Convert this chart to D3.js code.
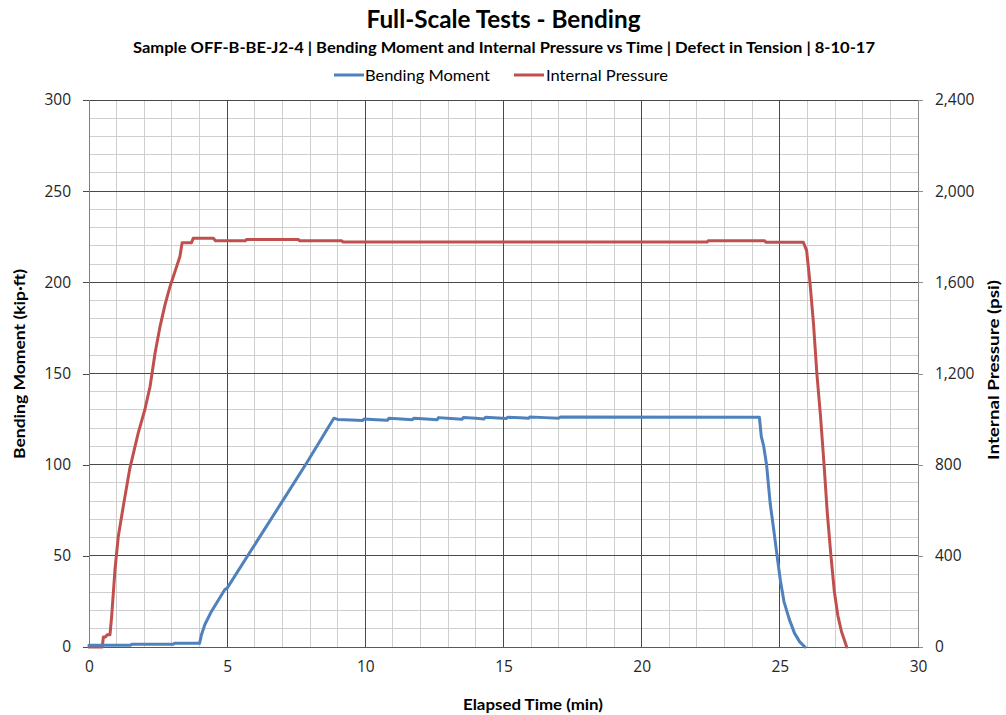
<!DOCTYPE html>
<html>
<head>
<meta charset="utf-8">
<script src="https://cdn.jsdelivr.net/npm/d3@7"></script>
<style>
  body { margin: 0; background: #fff; }
  svg { display: block; }
</style>
</head>
<body>
<svg id="chart" width="1006" height="715"></svg>
<script>
// ---- Data ----------------------------------------------------------------
// Bending moment (kip·ft) vs elapsed time (min)
const momentTime = [0, 1.5, 1.55, 3.05, 3.1, 4.0, 4.07, 4.19, 4.43, 4.91, 5.0, 5.88, 7.03, 7.87, 8.86,
  9.0, 9.5, 9.9, 9.95, 10.4, 10.8, 10.85, 11.3, 11.7, 11.75, 12.2, 12.6, 12.65, 13.1, 13.5, 13.55,
  14.0, 14.3, 14.35, 14.8, 15.1, 15.15, 15.6, 15.9, 15.95, 16.5, 17.0, 17.05, 24.26,
  24.33, 24.41, 24.52, 24.65, 24.77, 24.9, 25.02, 25.15, 25.34, 25.53, 25.72, 25.91];
const bendingMoment = [1.0, 1.0, 1.5, 1.5, 2.0, 2.0, 6.7, 12.2, 19.5, 31.4, 32.3, 53.3, 80.7, 100.8, 125.5,
  124.8, 124.5, 124.2, 125.0, 124.6, 124.3, 125.4, 125.0, 124.6, 125.4, 125.0, 124.6, 125.8, 125.3, 124.9, 125.9,
  125.4, 125.1, 126.0, 125.6, 125.3, 126.0, 125.7, 125.4, 126.1, 125.8, 125.5, 126.1, 126.0,
  115.4, 110.6, 100.0, 78.8, 65.4, 50.0, 36.5, 24.9, 15.3, 7.6, 2.8, 0];

// Internal pressure (psi) vs elapsed time (min)
const pressureTime = [0, 0.48, 0.52, 0.60, 0.66, 0.76, 0.82, 0.94, 1.06, 1.24, 1.48, 1.78, 2.02, 2.21, 2.39,
  2.57, 2.75, 2.93, 3.17, 3.29, 3.37, 3.71, 3.77, 4.50, 4.58, 5.66, 5.70, 7.58, 7.62, 9.15, 9.19,
  22.37, 22.41, 24.45, 24.49, 25.85, 25.97, 26.09, 26.22, 26.34, 26.47, 26.6, 26.72, 26.85, 26.97,
  27.1, 27.23, 27.42];
const internalPressure = [0, 0, 44, 44, 54, 54, 134, 339, 485, 617, 785, 938, 1041, 1143, 1289,
  1406, 1501, 1581, 1669, 1713, 1774, 1774, 1793, 1793, 1782, 1782, 1788, 1788, 1782, 1782, 1777,
  1777, 1783, 1783, 1776, 1776, 1739, 1600, 1416, 1200, 1016, 800, 584, 400, 246,
  138, 68, 0];

const seriesNames = ["Bending Moment", "Internal Pressure"];
const xTicks = [0, 5, 10, 15, 20, 25, 30];
const momentTicks = [0, 50, 100, 150, 200, 250, 300];
const pressureTicks = [0, 400, 800, 1200, 1600, 2000, 2400];

const titleText = "Full-Scale Tests - Bending";
const subtitleText = "Sample OFF-B-BE-J2-4 | Bending Moment and Internal Pressure vs Time | Defect in Tension | 8-10-17";
const xTitle = "Elapsed Time (min)";
const yLeftTitle = "Bending Moment (kip·ft)";
const yRightTitle = "Internal Pressure (psi)";

// ---- Layout ----------------------------------------------------------------
const plot = { left: 89, right: 918, top: 100, bottom: 647 };
const colors = { moment: "#4f81bd", pressure: "#c0504d" };
const majorGrid = "#4a4a4a", minorGrid = "#cfcfcf";
const uiFont = "'Open Sans', 'Noto Sans', sans-serif";
const headFont = "Lato, 'Noto Sans', sans-serif";

const svg = d3.select("#chart");

const x = d3.scaleLinear().domain([0, 30]).range([plot.left, plot.right]);
const yM = d3.scaleLinear().domain([0, 300]).range([plot.bottom, plot.top]);
const yP = d3.scaleLinear().domain([0, 2400]).range([plot.bottom, plot.top]);

// Squeeze or stretch a text node to a given width
function fitWidth(sel, w) {
  sel.attr("textLength", w).attr("lengthAdjust", "spacingAndGlyphs");
}

// ---- Gridlines -------------------------------------------------------------
const grid = svg.append("g").attr("shape-rendering", "crispEdges");

const minorX = d3.range(1, 30).filter(v => v % 5 !== 0);
const minorY = d3.range(10, 300, 10).filter(v => v % 50 !== 0);

grid.selectAll(".mx").data(minorX).join("line")
  .attr("x1", d => x(d)).attr("x2", d => x(d))
  .attr("y1", plot.top).attr("y2", plot.bottom)
  .attr("stroke", minorGrid).attr("stroke-width", 1);

grid.selectAll(".my").data(minorY).join("line")
  .attr("x1", plot.left).attr("x2", plot.right)
  .attr("y1", d => yM(d)).attr("y2", d => yM(d))
  .attr("stroke", minorGrid).attr("stroke-width", 1);

grid.selectAll(".Mx").data(xTicks.filter(v => v > 0 && v < 30)).join("line")
  .attr("x1", d => x(d)).attr("x2", d => x(d))
  .attr("y1", plot.top).attr("y2", plot.bottom)
  .attr("stroke", majorGrid).attr("stroke-width", 1);

grid.selectAll(".My").data(momentTicks).join("line")
  .attr("x1", plot.left).attr("x2", plot.right)
  .attr("y1", d => yM(d)).attr("y2", d => yM(d))
  .attr("stroke", majorGrid).attr("stroke-width", 1);

// ---- Axes ------------------------------------------------------------------
const axisLeft = d3.axisLeft(yM).tickValues(momentTicks).tickSize(6).tickPadding(12);
const gL = svg.append("g").attr("transform", `translate(${plot.left},0)`).call(axisLeft);
gL.select(".domain").attr("stroke", "#7f7f7f");
gL.selectAll(".tick line").attr("stroke", majorGrid);
gL.selectAll(".tick text").attr("font-family", uiFont).attr("font-size", 15.5).attr("fill", "#262626");

const axisRight = d3.axisRight(yP).tickValues(pressureTicks).tickSize(5)
  .tickFormat(d3.format(",")).tickPadding(12);
const gR = svg.append("g").attr("transform", `translate(${plot.right},0)`).call(axisRight);
gR.select(".domain").attr("stroke", "#8c8c8c");
gR.selectAll(".tick line").attr("stroke", "#8c8c8c");
gR.selectAll(".tick text").attr("font-family", uiFont).attr("font-size", 15.5).attr("fill", "#262626");

const axisBottom = d3.axisBottom(x).tickValues(xTicks).tickSize(0).tickPadding(14);
const gB = svg.append("g").attr("transform", `translate(0,${plot.bottom})`).call(axisBottom);
gB.select(".domain").attr("stroke", "#595959");
gB.selectAll(".tick text").attr("font-family", uiFont).attr("font-size", 15.5).attr("fill", "#262626");

svg.selectAll(".domain").attr("shape-rendering", "crispEdges");
svg.selectAll(".tick line").attr("shape-rendering", "crispEdges");

// ---- Series ----------------------------------------------------------------
const momentData = momentTime.map((t, i) => [t, bendingMoment[i]]);
const pressureData = pressureTime.map((t, i) => [t, internalPressure[i]]);

svg.append("path").datum(pressureData)
  .attr("fill", "none").attr("stroke", colors.pressure).attr("stroke-width", 3)
  .attr("stroke-linejoin", "round").attr("stroke-linecap", "round")
  .attr("d", d3.line().x(d => x(d[0])).y(d => yP(d[1])));

svg.append("path").datum(momentData)
  .attr("fill", "none").attr("stroke", colors.moment).attr("stroke-width", 3)
  .attr("stroke-linejoin", "round").attr("stroke-linecap", "round")
  .attr("d", d3.line().x(d => x(d[0])).y(d => yM(d[1])));

// ---- Titles ----------------------------------------------------------------
svg.append("text").attr("x", 503.5).attr("y", 28)
  .attr("text-anchor", "middle").attr("font-family", headFont)
  .attr("font-weight", "bold").attr("font-size", 24).attr("fill", "#000")
  .text(titleText).call(fitWidth, 274);

svg.append("text").attr("x", 504).attr("y", 53)
  .attr("text-anchor", "middle").attr("font-family", headFont)
  .attr("font-weight", "bold").attr("font-size", 15).attr("fill", "#000")
  .text(subtitleText).call(fitWidth, 742);

svg.append("text").attr("x", 533).attr("y", 710)
  .attr("text-anchor", "middle").attr("font-family", headFont)
  .attr("font-weight", "bold").attr("font-size", 15).attr("fill", "#000")
  .text(xTitle).call(fitWidth, 140);

svg.append("text")
  .attr("transform", "translate(25,364) rotate(-90)")
  .attr("text-anchor", "middle").attr("font-family", headFont)
  .attr("font-weight", "bold").attr("font-size", 15).attr("fill", "#000")
  .text(yLeftTitle).call(fitWidth, 190);

svg.append("text")
  .attr("transform", "translate(999,370) rotate(-90)")
  .attr("text-anchor", "middle").attr("font-family", headFont)
  .attr("font-weight", "bold").attr("font-size", 15).attr("fill", "#000")
  .text(yRightTitle).call(fitWidth, 180);

// ---- Legend ----------------------------------------------------------------
const legendItems = [
  { name: seriesNames[0], color: colors.moment, x0: 334, tx: 365, w: 125 },
  { name: seriesNames[1], color: colors.pressure, x0: 514, tx: 546, w: 122 }
];
const lg = svg.append("g");
legendItems.forEach(it => {
  lg.append("line").attr("x1", it.x0).attr("x2", it.x0 + 30)
    .attr("y1", 75).attr("y2", 75)
    .attr("stroke", it.color).attr("stroke-width", 3);
  lg.append("text").attr("x", it.tx).attr("y", 81)
    .attr("font-family", headFont).attr("font-size", 16).attr("fill", "#000")
    .text(it.name).call(fitWidth, it.w);
});
</script>
</body>
</html>
